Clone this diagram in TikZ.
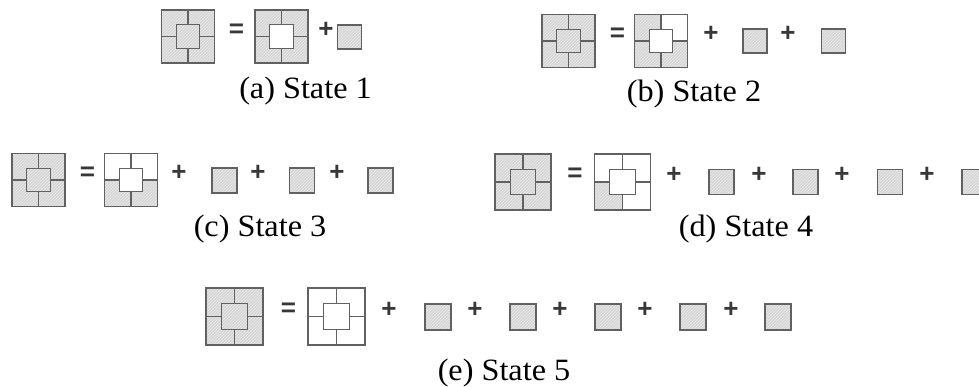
\documentclass[tikz,border=0pt]{standalone}
\usepackage{fontspec}
\setmainfont{Liberation Serif}
\newfontfamily\symfont{Liberation Sans}
\usetikzlibrary{patterns}
\tikzset{
  hatch/.style={preaction={fill=gray!33}, pattern=north east lines, pattern color=gray!14},
  blank/.style={fill=white},
  edge/.style={draw=black!62, line width=1.1pt},
  op/.style={font=\symfont\bfseries\fontsize{26}{26}\selectfont, inner sep=0pt, text=black!78},
  captxt/.style={font=\fontsize{31}{33}\selectfont, inner sep=0pt}
}
% #1 cx, #2 cy, #3 side, #4 tl, #5 tr, #6 bl, #7 br, #8 inner style
\newcommand{\Tile}[8]{%
  \pgfmathsetmacro\hh{#3/2}\pgfmathsetmacro\rr{0.225*#3}%
  \ifnum#4=1 \path[hatch] (#1-\hh,#2-\hh) rectangle (#1,#2);\fi
  \ifnum#5=1 \path[hatch] (#1,#2-\hh) rectangle (#1+\hh,#2);\fi
  \ifnum#6=1 \path[hatch] (#1-\hh,#2) rectangle (#1,#2+\hh);\fi
  \ifnum#7=1 \path[hatch] (#1,#2) rectangle (#1+\hh,#2+\hh);\fi
  \path[#8] (#1-\rr,#2-\rr) rectangle (#1+\rr,#2+\rr);
  \draw[edge] (#1-\hh,#2-\hh) rectangle (#1+\hh,#2+\hh);
  \draw[edge] (#1-\rr,#2-\rr) rectangle (#1+\rr,#2+\rr);
  \draw[edge] (#1,#2-\hh) -- (#1,#2-\rr) (#1,#2+\rr) -- (#1,#2+\hh)
              (#1-\hh,#2) -- (#1-\rr,#2) (#1+\rr,#2) -- (#1+\hh,#2);
}
% #1 cx, #2 cy, #3 side
\newcommand{\Piece}[3]{%
  \pgfmathsetmacro\hh{#3/2}%
  \path[hatch] (#1-\hh,#2-\hh) rectangle (#1+\hh,#2+\hh);
  \draw[edge] (#1-\hh,#2-\hh) rectangle (#1+\hh,#2+\hh);
}
\newcommand{\Cap}[1]{\scalebox{1.04}[1]{#1}}
\begin{document}
\begin{tikzpicture}[x=1pt,y=-1pt]
\useasboundingbox (0,0) rectangle (979,387);
% ---- (a) State 1
\Tile{188}{36.5}{53}{1}{1}{1}{1}{hatch}
\node[op] (a-eq) at (236.5,30.5) {=};
\Tile{281.5}{36.5}{53}{1}{1}{1}{1}{blank}
\node[op] (a-p1) at (326,29.5) {+};
\Piece{349.5}{37}{24}
\node[captxt] (capa) at (305.5,91) {\Cap{(a) State 1}};
% ---- (b) State 2
\Tile{568.5}{41}{53}{1}{1}{1}{1}{hatch}
\node[op] (b-eq) at (617.5,35) {=};
\Tile{661}{41}{53}{1}{0}{1}{1}{blank}
\node[op] (b-p1) at (711,34) {+};
\Piece{755}{41}{24}
\node[op] (b-p2) at (788,34) {+};
\Piece{833.5}{41}{24}
\node[captxt] (capb) at (694,94) {\Cap{(b) State 2}};
% ---- (c) State 3
\Tile{38.5}{180}{53}{1}{1}{1}{1}{hatch}
\node[op] (c-eq) at (87.5,173.5) {=};
\Tile{131}{180}{53}{0}{0}{1}{1}{blank}
\node[op] (c-p1) at (179,173) {+};
\Piece{224.5}{180.5}{25}
\node[op] (c-p2) at (258,173) {+};
\Piece{302}{180.5}{25}
\node[op] (c-p3) at (337,173) {+};
\Piece{380.5}{180.5}{25}
\node[captxt] (capc) at (260,229) {\Cap{(c) State 3}};
% ---- (d) State 4
\Tile{523}{182}{56}{1}{1}{1}{1}{hatch}
\node[op] (d-eq) at (575,175) {=};
\Tile{622.5}{182}{56}{0}{0}{1}{0}{blank}
\node[op] (d-p1) at (674,174.5) {+};
\Piece{721.5}{182}{25}
\node[op] (d-p2) at (759,174.5) {+};
\Piece{805.5}{182}{25}
\node[op] (d-p3) at (842,174.5) {+};
\Piece{890}{182}{25}
\node[op] (d-p4) at (927,174.5) {+};
\Piece{974.5}{182}{25}
\node[captxt] (capd) at (746,229) {\Cap{(d) State 4}};
% ---- (e) State 5
\Tile{234.5}{316.5}{57}{1}{1}{1}{1}{hatch}
\node[op] (e-eq) at (288.5,309.5) {=};
\Tile{336.5}{316.5}{57}{0}{0}{0}{0}{blank}
\node[op] (e-p1) at (389,309.5) {+};
\Piece{438}{317}{26}
\node[op] (e-p2) at (475,309.5) {+};
\Piece{523}{317}{26}
\node[op] (e-p3) at (560,309.5) {+};
\Piece{608}{317}{26}
\node[op] (e-p4) at (645,309.5) {+};
\Piece{693}{317}{26}
\node[op] (e-p5) at (731,309.5) {+};
\Piece{778}{317}{26}
\node[captxt] (cape) at (504,373.5) {\Cap{(e) State 5}};
\end{tikzpicture}
\end{document}
